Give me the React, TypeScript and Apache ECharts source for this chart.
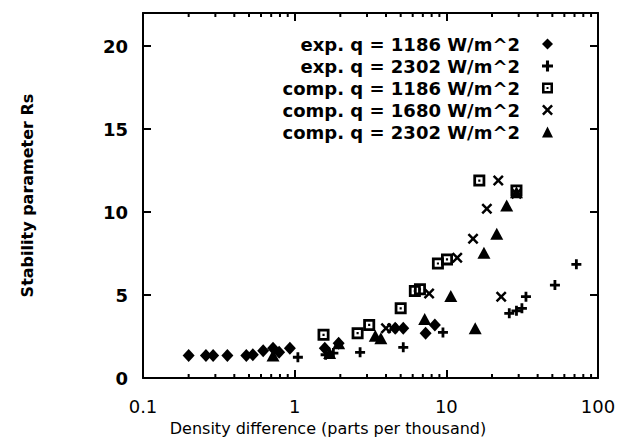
import React, { useEffect, useRef } from "react";
import * as echarts from "echarts";

const seriesNames = [
  "exp. q = 1186 W/m^2",
  "exp. q = 2302 W/m^2",
  "comp. q = 1186 W/m^2",
  "comp. q = 1680 W/m^2",
  "comp. q = 2302 W/m^2",
];

const exp1186: number[][] = [
  [0.2, 1.35], [0.26, 1.35], [0.29, 1.35], [0.36, 1.35], [0.48, 1.35], [0.53, 1.4],
  [0.62, 1.65], [0.72, 1.8], [0.79, 1.55], [0.93, 1.8], [1.58, 1.8], [1.95, 2.1],
  [4.6, 3.0], [5.2, 3.0], [7.3, 2.7], [8.4, 3.2],
];
const exp2302: number[][] = [
  [1.05, 1.25], [1.6, 1.4], [1.8, 1.5], [2.7, 1.55], [5.2, 1.85], [9.5, 2.75],
  [26, 3.9], [29, 4.05], [31.5, 4.2], [33.5, 4.9], [52, 5.6], [72, 6.85],
];
const comp1186: number[][] = [
  [1.55, 2.6], [2.6, 2.7], [3.1, 3.2], [5.0, 4.2], [6.2, 5.25], [6.7, 5.35],
  [8.8, 6.9], [10.1, 7.15], [16.5, 11.9], [29, 11.3],
];
const comp1680: number[][] = [
  [4.0, 3.0], [4.4, 3.0], [7.7, 5.1], [11.8, 7.25], [15, 8.4], [18.5, 10.2],
  [22, 11.9], [23, 4.9], [29, 11.1],
];
const comp2302: number[][] = [
  [0.72, 1.35], [1.7, 1.5], [1.95, 2.1], [3.4, 2.55], [3.7, 2.4], [7.2, 3.55],
  [10.7, 4.95], [15.5, 3.0], [17.7, 7.55], [21.5, 8.7], [25, 10.4], [29, 11.2],
];

const xTickLabels = ["0.1", "1", "10", "100"];
const yTicks = [0, 5, 10, 15, 20];
const minorXTicks = [
  0.2, 0.3, 0.4, 0.5, 0.6, 0.7, 0.8, 0.9,
  2, 3, 4, 5, 6, 7, 8, 9,
  20, 30, 40, 50, 60, 70, 80, 90,
];
const xTitle = "Density difference (parts per thousand)";
const yTitle = "Stability parameter Rs";

const FONT = "DejaVu Sans";

const SYM_PLUS = "path://M3.6,0H6.4V3.6H10V6.4H6.4V10H3.6V6.4H0V3.6H3.6Z";
const SYM_SQUARE =
  "path://M0,0H10V10H0Z M2.3,2.3V7.7H7.7V2.3Z M4.1,4.1H5.9V5.9H4.1Z";
const SYM_CROSS =
  "path://M0,1.6L1.6,0L5,3.4L8.4,0L10,1.6L6.6,5L10,8.4L8.4,10L5,6.6L1.6,10L0,8.4L3.4,5Z";

export default function App() {
  const ref = useRef<HTMLDivElement>(null);
  useEffect(() => {
    if (!ref.current) return;
    const chart = echarts.init(ref.current, null, { renderer: "svg" });
    const black = "#000";
    const axisCommon = {
      axisLine: { show: true, onZero: false, lineStyle: { color: black, width: 2 } },
      splitLine: { show: false },
    };
    const tick = { show: true, inside: true, length: 8, lineStyle: { color: black, width: 2 } };
    const itemStyle = { color: black, opacity: 1 };
    chart.setOption({
      animation: false,
      backgroundColor: "#fff",
      textStyle: { fontFamily: FONT },
      grid: { left: 143, right: 31, top: 13, bottom: 63 },
      legend: {
        data: seriesNames,
        orient: "vertical",
        right: 76,
        top: 35,
        align: "right",
        itemWidth: 11,
        itemHeight: 11,
        itemGap: 4,
        padding: 0,
        textStyle: {
          fontFamily: FONT,
          fontWeight: "bold",
          fontSize: 18,
          lineHeight: 18,
          color: black,
          padding: [0, 17, 0, 0],
        },
        selectedMode: false,
      },
      graphic: [
        {
          type: "text",
          x: 328,
          y: 428,
          style: {
            text: xTitle,
            fill: black,
            font: `16px "${FONT}"`,
            align: "center",
            verticalAlign: "middle",
          },
        },
      ],
      xAxis: [
        {
          type: "log",
          logBase: 10,
          min: 0.1,
          max: 100,
          ...axisCommon,
          axisTick: tick,
          axisLabel: {
            color: black,
            fontFamily: FONT,
            fontSize: 18,
            margin: 19,
            formatter: (v: number) => {
              const idx = Math.round(Math.log10(v)) + 1;
              return xTickLabels[idx] ?? "";
            },
          },
        },
        {
          type: "log",
          logBase: 10,
          min: 0.1,
          max: 100,
          position: "top",
          ...axisCommon,
          axisTick: tick,
          axisLabel: { show: false },
        },
      ],
      yAxis: [
        {
          type: "value",
          min: 0,
          max: 22,
          interval: 5,
          ...axisCommon,
          axisTick: tick,
          axisLabel: {
            color: black,
            fontFamily: FONT,
            fontWeight: "bold",
            fontSize: 18,
            margin: 15,
            formatter: (v: number) => (yTicks.includes(v) ? String(v) : ""),
          },
          name: yTitle,
          nameLocation: "middle",
          nameRotate: 90,
          nameGap: 108,
          nameTextStyle: { color: black, fontFamily: FONT, fontSize: 16, fontWeight: "bold" },
        },
        {
          type: "value",
          min: 0,
          max: 22,
          interval: 5,
          position: "right",
          ...axisCommon,
          axisTick: tick,
          axisLabel: { show: false },
        },
      ],
      series: [
        {
          name: seriesNames[0],
          type: "scatter",
          data: exp1186,
          symbol: "diamond",
          symbolSize: [12, 13],
          itemStyle,
        },
        {
          name: seriesNames[1],
          type: "scatter",
          data: exp2302,
          symbol: SYM_PLUS,
          symbolSize: 10,
          itemStyle,
        },
        {
          name: seriesNames[2],
          type: "scatter",
          data: comp1186,
          symbol: SYM_SQUARE,
          symbolSize: 12,
          itemStyle,
        },
        {
          name: seriesNames[3],
          type: "scatter",
          data: comp1680,
          symbol: SYM_CROSS,
          symbolSize: 11,
          itemStyle,
        },
        {
          name: seriesNames[4],
          type: "scatter",
          data: comp2302,
          symbol: "triangle",
          symbolSize: [13, 12],
          itemStyle,
        },
        {
          type: "custom",
          silent: true,
          clip: false,
          data: minorXTicks.map((v) => [v, 1]),
          renderItem: (params: any, api: any) => {
            const x = api.coord([api.value(0), 1])[0];
            const yb = api.coord([1, 0])[1];
            const yt = api.coord([1, 22])[1];
            return {
              type: "group",
              children: [
                { type: "line", shape: { x1: x, y1: yb, x2: x, y2: yb - 4 }, style: { stroke: black, lineWidth: 2 } },
                { type: "line", shape: { x1: x, y1: yt, x2: x, y2: yt + 4 }, style: { stroke: black, lineWidth: 2 } },
              ],
            };
          },
        },
      ],
    });
    return () => chart.dispose();
  }, []);
  return (
    <div
      ref={ref}
      style={{ position: "fixed", left: 0, top: 0, width: 629, height: 441 }}
    />
  );
}
